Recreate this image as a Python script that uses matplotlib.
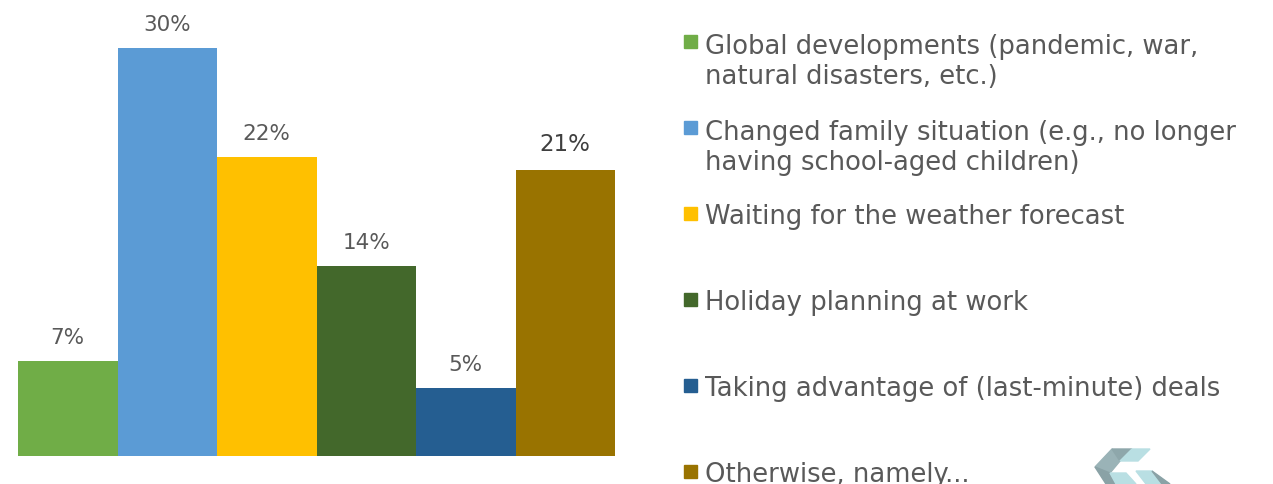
import matplotlib.pyplot as plt
from matplotlib.patches import Rectangle, Polygon

# Data
categories = ['Global developments (pandemic, war,\nnatural disasters, etc.)',
              'Changed family situation (e.g., no longer\nhaving school-aged children)',
              'Waiting for the weather forecast',
              'Holiday planning at work',
              'Taking advantage of (last-minute) deals',
              'Otherwise, namely...']
values = [7, 30, 22, 14, 5, 21]
colors = ['#70ad47', '#5b9bd5', '#ffc000', '#43682b', '#255e91', '#997300']

W, H = 1273, 485
plt.rcParams['font.family'] = ['DejaVu Sans']
fig = plt.figure(figsize=(W / 100, H / 100), dpi=100)

# Bars
ax = fig.add_axes([18 / W, 28 / H, 597 / W, 457 / H])
x = range(len(values))
ax.bar(x, values, width=1.0, color=colors)
ax.set_xlim(-0.5, len(values) - 0.5)
ax.set_ylim(0, 457 / 13.6)
ax.axis('off')

for i, v in enumerate(values):
    last = i == len(values) - 1
    ax.annotate(f'{v}%', (i, v), xytext=(0, 20 if last else 18),
                textcoords='offset pixels', ha='center', va='baseline',
                fontsize=16.5 if last else 15.5,
                color='#3f3f3f' if last else '#595959')

# Legend, laid out by hand
base0, step = 52, 86
for i, (lab, c) in enumerate(zip(categories, colors)):
    yb = H - (base0 + i * step)
    fig.patches.append(Rectangle((684 / W, (yb + 3) / H), 13 / W, 13 / H,
                                 transform=fig.transFigure, color=c))
    nlines = lab.count('\n')
    fig.text(705 / W, (yb - nlines * 32) / H, lab, fontsize=18.6, color='#595959',
             va='baseline', ha='left', linespacing=1.22)

# Logo mark in the corner
logo = [
    ([(1095, 468), (1112, 450), (1120, 462), (1110, 474)], '#9ab3b7'),
    ([(1112, 450), (1132, 450), (1120, 462)], '#8ea7ab'),
    ([(1120, 462), (1132, 450), (1150, 450), (1138, 462)], '#b9dfe3'),
    ([(1095, 468), (1110, 474), (1116, 485), (1106, 485)], '#8aa2a6'),
    ([(1110, 474), (1126, 474), (1136, 485), (1116, 485)], '#b9dfe3'),
    ([(1136, 472), (1152, 472), (1162, 485), (1146, 485)], '#b9dfe3'),
    ([(1152, 472), (1170, 485), (1162, 485)], '#8aa2a6'),
]
for pts, c in logo:
    fig.patches.append(Polygon([(px / W, 1 - py / H) for px, py in pts],
                               closed=True, transform=fig.transFigure, color=c))

fig.savefig('out.png', dpi=100)
